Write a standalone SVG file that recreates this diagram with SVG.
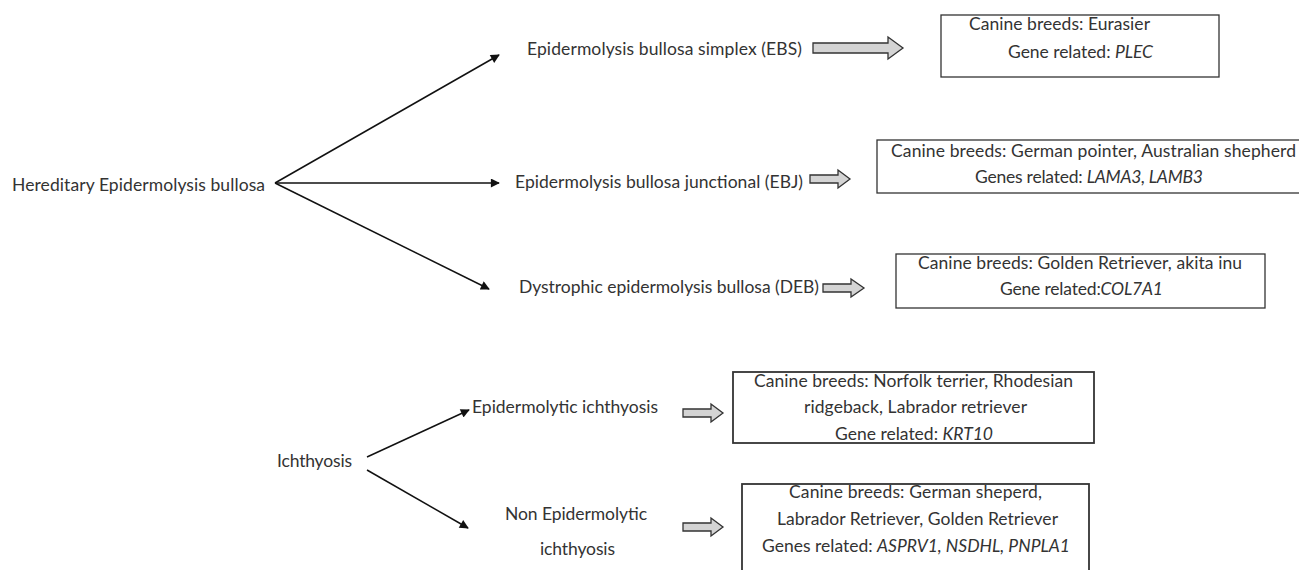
<svg xmlns="http://www.w3.org/2000/svg" width="1299" height="570" viewBox="0 0 1299 570">
<style>
text{font-family:Lato,"Liberation Sans",sans-serif;font-size:17.5px;fill:#333}
.b{fill:#fff;stroke:#333;stroke-width:1.3}
.ba{fill:#d4d4d4;stroke:#333;stroke-width:1.3;stroke-linejoin:miter}
.ln{stroke:#111;stroke-width:1.5;fill:none;marker-end:url(#ah)}
.i{font-style:italic}
</style>
<defs>
<marker id="ah" viewBox="0 0 10 10" refX="9" refY="5" markerWidth="10" markerHeight="9" markerUnits="userSpaceOnUse" orient="auto">
<path d="M0,0 L10,5 L0,10 Z" fill="#111"/>
</marker>
</defs>
<rect width="1299" height="570" fill="#fff"/>
<g id="connectors">
<line class="ln" x1="275" y1="183" x2="499" y2="55"/>
<line class="ln" x1="275" y1="183" x2="499" y2="183"/>
<line class="ln" x1="275" y1="183" x2="489" y2="289"/>
<line class="ln" x1="367" y1="457" x2="469" y2="410"/>
<line class="ln" x1="367" y1="470" x2="468" y2="528"/>
<path class="ba" d="M813,43 H888 V37 L903,48 L888,59 V53 H813 Z"/>
<path class="ba" d="M810,175 H838 V170 L850,179 L838,188 V183 H810 Z"/>
<path class="ba" d="M823,284 H851 V279 L864,288 L851,297 V292 H823 Z"/>
<path class="ba" d="M683,409 H711 V404 L723,413 L711,422 V417 H683 Z"/>
<path class="ba" d="M683,523 H711 V518 L723,527 L711,536 V531 H683 Z"/>
</g>
<g id="n-heb"><text x="12" y="191" textLength="253">Hereditary Epidermolysis bullosa</text></g>
<g id="n-ebs"><text x="527" y="55" textLength="275">Epidermolysis bullosa simplex (EBS)</text></g>
<g id="n-ebj"><text x="515" y="188" textLength="288">Epidermolysis bullosa junctional (EBJ)</text></g>
<g id="n-deb"><text x="519" y="293" textLength="300">Dystrophic epidermolysis bullosa (DEB)</text></g>
<g id="n-ebs-box">
<rect class="b" x="941" y="15" width="278" height="62"/>
<text x="969" y="30" textLength="181">Canine breeds: Eurasier</text>
<text x="1008" y="58" textLength="145">Gene related: <tspan class="i">PLEC</tspan></text>
</g>
<g id="n-ebj-box">
<rect class="b" x="877" y="140" width="440" height="53"/>
<text x="891" y="157" textLength="405">Canine breeds: German pointer, Australian shepherd</text>
<text x="975" y="183" textLength="228">Genes related: <tspan class="i">LAMA3, LAMB3</tspan></text>
</g>
<g id="n-deb-box">
<rect class="b" x="896" y="254" width="369" height="54"/>
<text x="918" y="269" textLength="324">Canine breeds: Golden Retriever, akita inu</text>
<text x="1000" y="295" textLength="163">Gene related:<tspan class="i">COL7A1</tspan></text>
</g>
<g id="n-ich"><text x="277" y="467" textLength="75">Ichthyosis</text></g>
<g id="n-ei"><text x="472" y="413" textLength="186">Epidermolytic ichthyosis</text></g>
<g id="n-nei">
<text x="505" y="520" textLength="142">Non Epidermolytic</text>
<text x="540" y="555" textLength="75">ichthyosis</text>
</g>
<g id="n-ei-box">
<rect class="b" x="733" y="372" width="361" height="71" style="stroke-width:1.8"/>
<text x="754" y="387" textLength="319">Canine breeds: Norfolk terrier, Rhodesian</text>
<text x="804" y="413" textLength="223">ridgeback, Labrador retriever</text>
<text x="835" y="440" textLength="158">Gene related: <tspan class="i">KRT10</tspan></text>
</g>
<g id="n-nei-box">
<rect class="b" x="742" y="484" width="347" height="100" style="stroke-width:1.8"/>
<text x="789" y="498" textLength="253">Canine breeds: German sheperd,</text>
<text x="777" y="525" textLength="281">Labrador Retriever, Golden Retriever</text>
<text x="762" y="552" textLength="308">Genes related: <tspan class="i">ASPRV1, NSDHL, PNPLA1</tspan></text>
</g>
</svg>
